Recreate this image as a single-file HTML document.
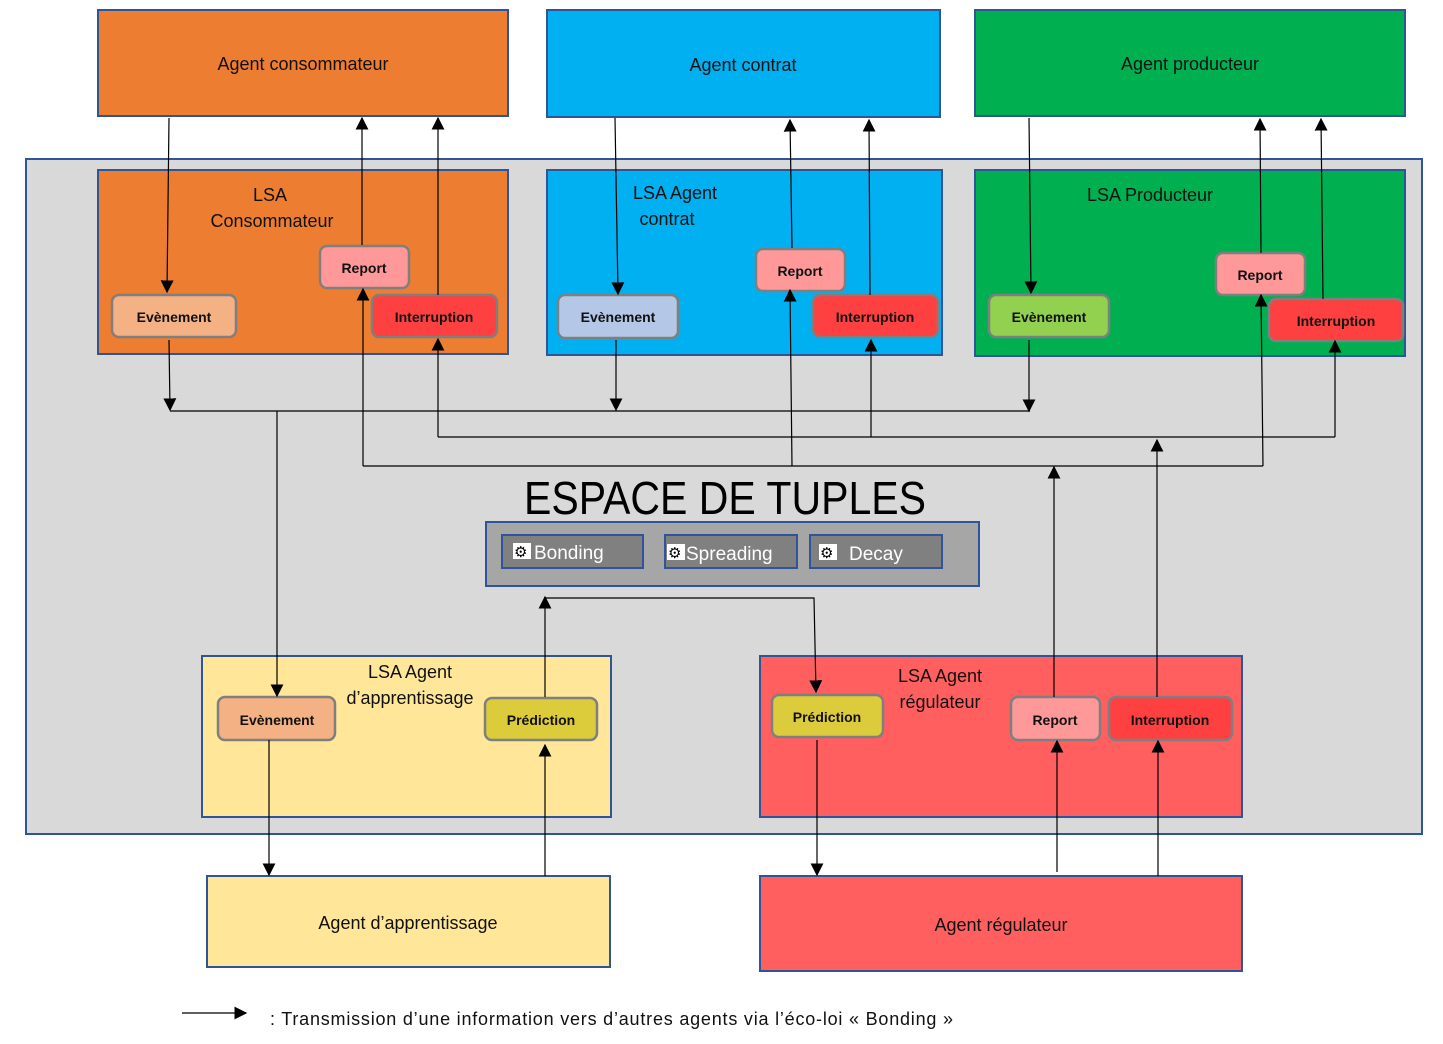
<!DOCTYPE html>
<html><head><meta charset="utf-8"><style>
body{margin:0;background:#fff}
svg{display:block;font-family:"Liberation Sans",sans-serif}
.t{font-size:18px;fill:#111;text-anchor:middle}
.b{font-size:14px;font-weight:bold;fill:#111;text-anchor:middle}
.w{font-size:19px;fill:#fff}
line,polyline{stroke:#000;stroke-width:1.2;fill:none}
</style></head><body>
<svg width="1443" height="1044" viewBox="0 0 1443 1044" xmlns="http://www.w3.org/2000/svg">
<defs><marker id="a2" viewBox="0 0 10 10" refX="9" refY="5" markerWidth="13" markerHeight="13" markerUnits="userSpaceOnUse" orient="auto"><path d="M0,0 L10,5 L0,10z" fill="#000"/></marker></defs>
<g stroke="#2F5597" stroke-width="2">
<rect x="98" y="10" width="410" height="106" fill="#ED7D31"/>
<rect x="547" y="10" width="393" height="107" fill="#00B0F0"/>
<rect x="975" y="10" width="430" height="106" fill="#00B050"/>
<rect x="26" y="159" width="1396" height="675" fill="#D9D9D9"/>
<rect x="98" y="170" width="410" height="184" fill="#ED7D31"/>
<rect x="547" y="170" width="395" height="185" fill="#00B0F0"/>
<rect x="975" y="170" width="430" height="186" fill="#00B050"/>
<rect x="486" y="522" width="493" height="64" fill="#A6A6A6"/>
<rect x="502" y="535" width="141" height="33" fill="#808080"/>
<rect x="665" y="535" width="132" height="33" fill="#808080"/>
<rect x="810" y="535" width="132" height="33" fill="#808080"/>
<rect x="202" y="656" width="409" height="161" fill="#FFE699"/>
<rect x="760" y="656" width="482" height="161" fill="#FF5F5F"/>
<rect x="207" y="876" width="403" height="91" fill="#FFE699"/>
<rect x="760" y="876" width="482" height="95" fill="#FF5F5F"/>
</g>
<g stroke="#7F7F7F" stroke-width="2.5">
<rect x="112" y="295" width="124" height="42" rx="7" fill="#F4B183"/>
<rect x="320" y="246" width="89" height="42" rx="7" fill="#FF9999"/>
<rect x="372" y="295" width="125" height="42" rx="7" fill="#FF4040"/>
<rect x="558" y="295" width="120" height="43" rx="7" fill="#B4C7E7"/>
<rect x="756" y="249" width="89" height="42" rx="7" fill="#FF9999"/>
<rect x="813" y="295" width="125" height="42" rx="7" fill="#FF4040"/>
<rect x="989" y="295" width="120" height="42" rx="7" fill="#92D050"/>
<rect x="1216" y="253" width="89" height="42" rx="7" fill="#FF9999"/>
<rect x="1269" y="299" width="134" height="42" rx="7" fill="#FF4040"/>
<rect x="218" y="697" width="117" height="43" rx="7" fill="#F4B183"/>
<rect x="485" y="698" width="112" height="42" rx="7" fill="#DCCB3A"/>
<rect x="772" y="695" width="111" height="42" rx="7" fill="#DCCB3A"/>
<rect x="1011" y="697" width="89" height="43" rx="7" fill="#FF9999"/>
<rect x="1109" y="697" width="123" height="43" rx="7" fill="#FF4040"/>
</g>
<text class="t" x="303" y="70">Agent consommateur</text>
<text class="t" x="743" y="71">Agent contrat</text>
<text class="t" x="1190" y="70">Agent  producteur</text>
<text class="t" x="270" y="201">LSA</text>
<text class="t" x="272" y="227">Consommateur</text>
<text class="t" x="675" y="199">LSA Agent</text>
<text class="t" x="667" y="225">contrat</text>
<text class="t" x="1150" y="201">LSA Producteur</text>
<text class="t" x="410" y="678">LSA Agent</text>
<text class="t" x="410" y="704">d’apprentissage</text>
<text class="t" x="940" y="682">LSA Agent</text>
<text class="t" x="940" y="708">régulateur</text>
<text class="t" x="408" y="929">Agent d’apprentissage</text>
<text class="t" x="1001" y="931">Agent régulateur</text>
<text class="b" x="174" y="322">Evènement</text>
<text class="b" x="364" y="273">Report</text>
<text class="b" x="434" y="322">Interruption</text>
<text class="b" x="618" y="322">Evènement</text>
<text class="b" x="800" y="276">Report</text>
<text class="b" x="875" y="322">Interruption</text>
<text class="b" x="1049" y="322">Evènement</text>
<text class="b" x="1260" y="280">Report</text>
<text class="b" x="1336" y="326">Interruption</text>
<text class="b" x="277" y="725">Evènement</text>
<text class="b" x="541" y="725">Prédiction</text>
<text class="b" x="827" y="722">Prédiction</text>
<text class="b" x="1055" y="725">Report</text>
<text class="b" x="1170" y="725">Interruption</text>
<text x="524" y="514" textLength="402" lengthAdjust="spacingAndGlyphs" style="font-size:46px;fill:#000">ESPACE DE TUPLES</text>
<g font-size="15" fill="#000"><rect x="513" y="543" width="18" height="16" fill="#fff"/><text x="514" y="557">⚙</text>
<rect x="667" y="544" width="18" height="16" fill="#fff"/><text x="668" y="558">⚙</text>
<rect x="819" y="544" width="18" height="16" fill="#fff"/><text x="820" y="558">⚙</text></g>
<text class="w" x="534" y="559">Bonding</text>
<text class="w" x="686" y="560">Spreading</text>
<text class="w" x="849" y="560">Decay</text>
<g marker-end="url(#a2)">
<line x1="169" y1="118" x2="167" y2="292"/>
<line x1="362" y1="245" x2="362" y2="118"/>
<line x1="438" y1="295" x2="438" y2="118"/>
<line x1="615" y1="118" x2="618" y2="294"/>
<line x1="792" y1="248" x2="790" y2="120"/>
<line x1="870" y1="295" x2="869" y2="120"/>
<line x1="1029" y1="118" x2="1031" y2="293"/>
<line x1="1261" y1="253" x2="1260" y2="119"/>
<line x1="1323" y1="299" x2="1321" y2="119"/>
<line x1="169" y1="340" x2="170" y2="410"/>
<line x1="616" y1="340" x2="616" y2="410"/>
<line x1="1029" y1="340" x2="1029" y2="411"/>
<line x1="277" y1="411" x2="277" y2="696"/>
<line x1="438" y1="437" x2="438" y2="339"/>
<line x1="871" y1="437" x2="871" y2="340"/>
<line x1="1335" y1="437" x2="1335" y2="341"/>
<line x1="1157" y1="697" x2="1157" y2="440"/>
<line x1="363" y1="466" x2="363" y2="289"/>
<line x1="792" y1="466" x2="790" y2="290"/>
<line x1="1263" y1="466" x2="1261" y2="295"/>
<line x1="1054" y1="697" x2="1054" y2="467"/>
<line x1="545" y1="697" x2="545" y2="597"/>
<polyline points="545,598 814,598 816,692"/>
<line x1="269" y1="740" x2="269" y2="875"/>
<line x1="545" y1="876" x2="545" y2="745"/>
<line x1="817" y1="740" x2="817" y2="875"/>
<line x1="1057" y1="872" x2="1057" y2="741"/>
<line x1="1158" y1="876" x2="1158" y2="741"/>
<line x1="182" y1="1013" x2="246" y2="1013"/>
</g>
<line x1="170" y1="411" x2="1030" y2="411"/>
<line x1="438" y1="437" x2="1335" y2="437"/>
<line x1="363" y1="466" x2="1263" y2="466"/>
<text x="270" y="1025" textLength="683" lengthAdjust="spacing" style="font-size:18px;fill:#111">: Transmission d’une information vers d’autres agents via l’éco-loi «  Bonding »</text>
</svg>
</body></html>
